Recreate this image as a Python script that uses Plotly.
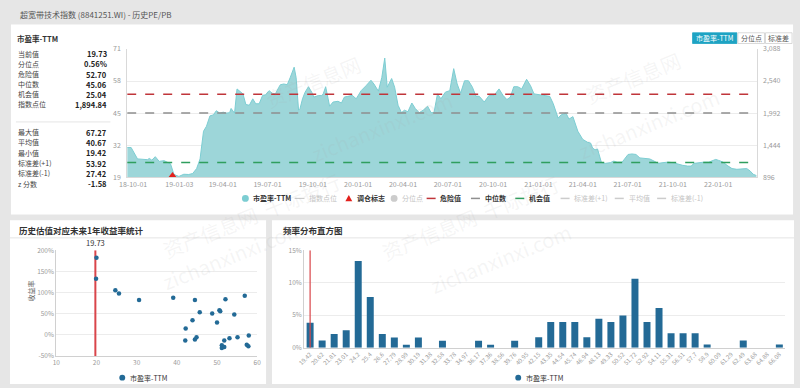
import plotly.graph_objects as go

W, H = 800, 388
FONT = "Noto Sans CJK SC, Noto Sans, sans-serif"

# ---------------- data ----------------
pe_dates = [
    "2018-09-19", "2018-09-27", "2018-10-10", "2018-10-20", "2018-10-30", "2018-11-03", "2018-11-08",
    "2018-11-15", "2018-11-23", "2018-12-03", "2018-12-09", "2018-12-16", "2018-12-23", "2019-01-02",
    "2019-01-12", "2019-01-22", "2019-01-30", "2019-02-07", "2019-02-14", "2019-02-21", "2019-02-27",
    "2019-03-06", "2019-03-13", "2019-03-19", "2019-03-26", "2019-04-02", "2019-04-08", "2019-04-15",
    "2019-04-18", "2019-04-25", "2019-04-30", "2019-05-05", "2019-05-12", "2019-05-18", "2019-05-25",
    "2019-06-01", "2019-06-07", "2019-06-14", "2019-06-21", "2019-06-27", "2019-07-04", "2019-07-11",
    "2019-07-17", "2019-07-24", "2019-07-27", "2019-08-03", "2019-08-10", "2019-08-16", "2019-08-24",
    "2019-08-28", "2019-08-31", "2019-09-02", "2019-09-05", "2019-09-10", "2019-09-15", "2019-09-22",
    "2019-09-29", "2019-10-03", "2019-10-12", "2019-10-19", "2019-10-22", "2019-10-27", "2019-11-01",
    "2019-11-04", "2019-11-11", "2019-11-21", "2019-11-28", "2019-12-04", "2019-12-11", "2019-12-20",
    "2019-12-28", "2020-01-07", "2020-01-17", "2020-01-27", "2020-02-02", "2020-02-11", "2020-02-18",
    "2020-02-24", "2020-02-29", "2020-03-09", "2020-03-15", "2020-03-22", "2020-03-29", "2020-04-04",
    "2020-04-11", "2020-04-19", "2020-04-26", "2020-05-04", "2020-05-12", "2020-05-21", "2020-05-28",
    "2020-06-03", "2020-06-10", "2020-06-17", "2020-06-26", "2020-07-05", "2020-07-13", "2020-07-20",
    "2020-07-27", "2020-08-04", "2020-08-12", "2020-08-20", "2020-08-27", "2020-09-03", "2020-09-13",
    "2020-09-23", "2020-10-03", "2020-10-13", "2020-10-21", "2020-10-29", "2020-11-05", "2020-11-12",
    "2020-11-20", "2020-11-28", "2020-12-08", "2020-12-16", "2020-12-23", "2021-01-04", "2021-01-17",
    "2021-01-24", "2021-01-31", "2021-02-10", "2021-02-16", "2021-02-26", "2021-03-04", "2021-03-12",
    "2021-03-22", "2021-04-01", "2021-04-11", "2021-04-17", "2021-04-21", "2021-04-26", "2021-05-01",
    "2021-05-05", "2021-05-09", "2021-05-17", "2021-05-27", "2021-06-03", "2021-06-10", "2021-06-20",
    "2021-06-26", "2021-07-02", "2021-07-10", "2021-07-18", "2021-07-26", "2021-08-05", "2021-08-15",
    "2021-08-24", "2021-09-01", "2021-09-11", "2021-09-21", "2021-10-01", "2021-10-11", "2021-10-21",
    "2021-10-31", "2021-11-07", "2021-11-13", "2021-11-23", "2021-12-03", "2021-12-13", "2021-12-20",
    "2021-12-27", "2022-01-02", "2022-01-11", "2022-01-19", "2022-01-29", "2022-02-08", "2022-02-18",
    "2022-02-28", "2022-03-07", "2022-03-13", "2022-03-20",
]
pe_values = [
    31.1, 31.1, 26.5, 26.5, 26.2, 26.7, 26.0,
    27.4, 25.5, 25.8, 25.1, 24.5, 20.2, 19.42,
    20.3, 20.2, 20.6, 22.6, 26.5, 37.7, 39.7,
    43.9, 44.3, 46.0, 45.0, 45.4, 45.0, 45.2,
    46.9, 45.0, 54.8, 54.1, 52.8, 48.5, 48.2,
    50.8, 48.8, 48.8, 52.2, 52.4, 54.1, 53.0,
    52.8, 55.5, 56.5, 56.8, 56.5, 59.4, 63.6,
    59.4, 52.8, 46.2, 46.9, 50.8, 53.4, 55.7,
    53.4, 51.5, 52.1, 52.1, 52.8, 55.7, 50.8,
    47.8, 49.5, 49.8, 49.1, 51.5, 51.8, 52.2,
    50.8, 54.1, 56.1, 58.3, 56.8, 53.9, 59.4,
    67.27, 55.5, 59.0, 55.5, 48.2, 45.2, 46.2,
    45.6, 49.1, 46.9, 45.2, 46.2, 47.8, 45.2,
    45.2, 52.8, 50.8, 53.5, 54.1, 63.0, 56.8,
    53.1, 58.1, 58.1, 55.5, 51.9, 51.8, 49.5,
    52.2, 52.2, 54.8, 52.2, 50.5, 51.5, 55.7,
    55.7, 54.8, 58.7, 56.1, 52.8, 52.4, 52.2,
    51.8, 48.9, 43.0, 44.3, 45.0, 42.6, 43.6,
    37.7, 34.4, 33.2, 32.9, 30.9, 30.2, 30.5,
    27.6, 25.0, 24.7, 25.0, 25.6, 25.2, 25.2,
    26.9, 28.3, 28.5, 28.3, 26.9, 26.7, 26.5,
    25.6, 24.7, 25.0, 25.2, 25.0, 24.3, 23.9,
    23.6, 23.6, 24.7, 25.0, 25.2, 25.2, 25.6,
    26.3, 25.9, 25.2, 23.9, 22.6, 22.3, 22.3,
    22.6, 21.6, 20.3, 19.73,
]
danger_value = 52.70
median_value = 45.06
opportunity_value = 25.04
current_pe = 19.73
percentile = 0.56
index_level = 1894.84
max_pe = 67.27
mean_pe = 40.67
min_pe = 19.42
std_plus = 53.92
std_minus = 27.42
z_score = -1.58
signal_date = "2018-12-20"
signal_value = 19.8

x_tick_dates = ["2018-10-01", "2019-01-03", "2019-04-01", "2019-07-01", "2019-10-01", "2020-01-01",
                "2020-04-01", "2020-07-01", "2020-10-01", "2021-01-01", "2021-04-01", "2021-07-01",
                "2021-10-01", "2022-01-01"]
left_ticks = [19, 32, 45, 58, 71]
right_ticks = [896, 1444, 1992, 2540, 3088]

scatter_pe = [20.0, 19.9, 24.7, 25.6, 30.6, 39.1, 44.5, 52.1, 56.9, 45.7, 48.8, 50.6, 50.8, 54.3,
              43.9, 50.0, 42.2, 42.1, 44.5, 44.9, 51.8, 53.1, 55.1, 57.9, 51.2, 51.2, 51.8, 57.4, 57.8]
scatter_ret = [182.4, 132.5, 105.7, 98.0, 82.7, 88.0, 82.7, 84.2, 92.6, 53.5, 50.5, 58.1, 55.8, 48.2,
               34.3, 29.0, 15.2, -13.2, -10.9, -5.5, -13.2, -7.8, -5.5, -1.7, -24.7, -30.8, -28.5, -23.2, -27.0]
ret_ticks = [-50, 0, 50, 100, 150, 200]
pe_ticks = [10, 20, 30, 40, 50, 60]

hist_bins = ["19.42", "20.62", "21.81", "23.01", "24.2", "25.4", "26.6", "27.79", "28.99", "30.19",
             "31.38", "32.58", "33.78", "34.97", "36.17", "37.36", "38.56", "39.76", "40.95", "42.15",
             "43.35", "44.54", "45.74", "46.94", "48.13", "49.33", "50.52", "51.72", "52.92", "54.11",
             "55.31", "56.51", "57.7", "58.9", "60.09", "61.29", "62.49", "63.68", "64.88", "66.08"]
hist_pct = [3.85, 1.1, 2.1, 2.7, 13.35, 7.8, 2.1, 1.55, 0.45, 1.55,
            0, 1.05, 0, 0, 1.05, 0.45, 0, 1.05, 0, 1.6,
            3.95, 3.95, 3.95, 1.6, 4.45, 3.95, 4.95, 10.6, 3.95, 6.1,
            2.2, 2.2, 2.2, 0.5, 0, 0, 1.1, 0, 0, 0.5]
hist_ticks = [0, 5, 10, 15]

stat_labels_1 = ["当前值", "分位点", "危险值", "中位数", "机会值", "指数点位"]
stat_labels_2 = ["最大值", "平均值", "最小值", "标准差(+1)", "标准差(-1)", "z 分数"]

# ---------------- helpers ----------------
def X(p):
    return p / W


def Y(p):
    return 1 - p / H


TEAL_FILL = "#9dd6d9"
TEAL_LINE = "#7ccdd2"
RED = "#c0353a"
GREY = "#8f8f8f"
GREEN = "#2f9e5e"
BLUE = "#236a96"
TICK = dict(family=FONT, size=7, color="#9a9a9a")
TICK_S = dict(family=FONT, size=6.5, color="#9a9a9a")

fig = go.Figure()

# top area chart
fig.add_trace(go.Scatter(x=pe_dates, y=pe_values, mode="lines", fill="tozeroy",
                         line=dict(color=TEAL_LINE, width=1), fillcolor=TEAL_FILL,
                         xaxis="x", yaxis="y", showlegend=False, hoverinfo="skip"))
for val, col in [(danger_value, RED), (median_value, GREY), (opportunity_value, GREEN)]:
    fig.add_trace(go.Scatter(x=[pe_dates[0], pe_dates[-1]], y=[val, val], mode="lines",
                             line=dict(color=col, width=1.5, dash="dash"),
                             xaxis="x", yaxis="y", showlegend=False, hoverinfo="skip"))
fig.add_trace(go.Scatter(x=[signal_date], y=[signal_value], mode="markers",
                         marker=dict(symbol="triangle-up", size=7, color="#e3201c"),
                         xaxis="x", yaxis="y", showlegend=False, hoverinfo="skip"))
fig.add_trace(go.Scatter(x=[pe_dates[-1]], y=[index_level], mode="markers",
                         marker=dict(size=1, opacity=0), xaxis="x", yaxis="y2",
                         showlegend=False, hoverinfo="skip"))

# scatter
fig.add_trace(go.Scatter(x=[current_pe, current_pe], y=[ret_ticks[0], ret_ticks[-1]], mode="lines",
                         line=dict(color="#d9454a", width=2), xaxis="x3", yaxis="y3",
                         showlegend=False, hoverinfo="skip"))
fig.add_trace(go.Scatter(x=scatter_pe, y=scatter_ret, mode="markers",
                         marker=dict(size=4.5, color=BLUE), xaxis="x3", yaxis="y3",
                         showlegend=False, hoverinfo="skip"))

# histogram
fig.add_trace(go.Bar(x=hist_bins, y=hist_pct, marker=dict(color=BLUE, line=dict(width=0)),
                     xaxis="x4", yaxis="y4", showlegend=False, hoverinfo="skip"))
fig.add_trace(go.Scatter(x=[hist_bins[0], hist_bins[0]], y=[hist_ticks[0], hist_ticks[-1]], mode="lines",
                         line=dict(color="#d9454a", width=1.2), xaxis="x4", yaxis="y4",
                         showlegend=False, hoverinfo="skip"))

shapes = []
annotations = []

# panels
shapes.append(dict(type="rect", xref="paper", yref="paper", x0=X(3), x1=X(797), y0=Y(214), y1=Y(19),
                   fillcolor="white", line=dict(width=0), layer="below"))
shapes.append(dict(type="rect", xref="paper", yref="paper", x0=X(2), x1=X(262), y0=Y(388), y1=Y(220),
                   fillcolor="white", line=dict(width=0), layer="below"))
shapes.append(dict(type="rect", xref="paper", yref="paper", x0=X(268), x1=X(798), y0=Y(388), y1=Y(220),
                   fillcolor="white", line=dict(width=0), layer="below"))
for a, b in [(2, 262), (268, 798)]:
    shapes.append(dict(type="line", xref="paper", yref="paper", x0=X(a), x1=X(b), y0=Y(238), y1=Y(238),
                       line=dict(color="#e4e4e4", width=1), layer="below"))
shapes.append(dict(type="line", xref="paper", yref="paper", x0=X(8), x1=X(104), y0=Y(119), y1=Y(119),
                   line=dict(color="#e6e6e6", width=1), layer="below"))

# watermarks
for txt, xx, yy in [("资产信息网", 310, 42), ("zichanxinxi.com", 380, 78), ("资产信息网", 690, 38),
                    ("zichanxinxi.com", 730, 75), ("资产信息网  千际投行", 150, 268),
                    ("zichanxinxi.com", 150, 300), ("资产信息网  千际投行", 470, 270),
                    ("zichanxinxi.com", 500, 305)]:
    annotations.append(dict(text=txt, x=X(xx), y=Y(yy), xref="paper", yref="paper", showarrow=False,
                            textangle=-22, font=dict(family=FONT, size=20, color="rgba(170,170,170,0.12)")))

# title texts
annotations.append(dict(text="超宽带技术指数 (8841251.WI) - 历史PE/PB", x=X(10), y=Y(8.5), xref="paper",
                        yref="paper", xanchor="left", yanchor="middle", showarrow=False,
                        font=dict(family=FONT, size=8, color="#555")))
annotations.append(dict(text="<b>市盈率-TTM</b>", x=X(7), y=Y(33), xref="paper", yref="paper",
                        xanchor="left", yanchor="middle", showarrow=False,
                        font=dict(family=FONT, size=7.5, color="#333")))
annotations.append(dict(text="<b>历史估值对应未来1年收益率统计</b>", x=X(9), y=Y(230), xref="paper",
                        yref="paper", xanchor="left", yanchor="middle", showarrow=False,
                        font=dict(family=FONT, size=8.5, color="#333")))
annotations.append(dict(text="<b>频率分布直方图</b>", x=X(277), y=Y(230), xref="paper",
                        yref="paper", xanchor="left", yanchor="middle", showarrow=False,
                        font=dict(family=FONT, size=8.5, color="#333")))

# stats
vals1 = [f"{current_pe:.2f}", f"{percentile:.2f}%", f"{danger_value:.2f}", f"{median_value:.2f}",
         f"{opportunity_value:.2f}", f"{index_level:,.2f}"]
vals2 = [f"{max_pe:.2f}", f"{mean_pe:.2f}", f"{min_pe:.2f}", f"{std_plus:.2f}", f"{std_minus:.2f}",
         f"{z_score:.2f}"]
for i, (lab, v) in enumerate(zip(stat_labels_1, vals1)):
    yy = 49 + i * 10.4
    annotations.append(dict(text=lab, x=X(8), y=Y(yy), xref="paper", yref="paper", xanchor="left",
                            yanchor="middle", showarrow=False, font=dict(family=FONT, size=7, color="#444")))
    annotations.append(dict(text=f"<b>{v}</b>", x=X(103), y=Y(yy), xref="paper", yref="paper",
                            xanchor="right", yanchor="middle", showarrow=False,
                            font=dict(family=FONT, size=7.5, color="#222")))
for i, (lab, v) in enumerate(zip(stat_labels_2, vals2)):
    yy = 129.5 + i * 10.6
    annotations.append(dict(text=lab, x=X(8), y=Y(yy), xref="paper", yref="paper", xanchor="left",
                            yanchor="middle", showarrow=False, font=dict(family=FONT, size=7, color="#444")))
    annotations.append(dict(text=f"<b>{v}</b>", x=X(103), y=Y(yy), xref="paper", yref="paper",
                            xanchor="right", yanchor="middle", showarrow=False,
                            font=dict(family=FONT, size=7.5, color="#222")))

# buttons
for lab, x0, x1, active in [("市盈率-TTM", 695, 740, True), ("分位点", 741, 768, False),
                            ("标准差", 769, 796, False)]:
    shapes.append(dict(type="rect", xref="paper", yref="paper", x0=X(x0), x1=X(x1), y0=Y(38.5), y1=Y(27.5),
                       fillcolor="#1ea3c3" if active else "white",
                       line=dict(color="#1ea3c3" if active else "#cfcfcf", width=0.8)))
    annotations.append(dict(text=lab, x=X((x0 + x1) / 2), y=Y(33), xref="paper", yref="paper",
                            showarrow=False, xanchor="center", yanchor="middle",
                            font=dict(family=FONT, size=7, color="white" if active else "#555")))

# top legend (drawn)
LY = 197.5
legend_items = [
    ("circle", TEAL_LINE, "市盈率-TTM", 241, True),
    ("line", "#cccccc", "指数点位", 296, False),
    ("tri", "#e3201c", "调仓标志", 346, True),
    ("circle", "#cccccc", "分位点", 392, False),
    ("dash", RED, "危险值", 430, True),
    ("dash", GREY, "中位数", 475, True),
    ("dash", GREEN, "机会值", 520, True),
    ("dash", "#cccccc", "标准差(+1)", 566, False),
    ("dash", "#cccccc", "平均值", 621, False),
    ("dash", "#cccccc", "标准差(-1)", 664, False),
]
for kind, col, lab, cx, active in legend_items:
    if kind == "circle":
        shapes.append(dict(type="circle", xref="paper", yref="paper", x0=X(cx - 3.5), x1=X(cx + 3.5),
                           y0=Y(LY + 3.5), y1=Y(LY - 3.5), fillcolor=col, line=dict(width=0)))
        tx = cx + 6
    elif kind == "tri":
        shapes.append(dict(type="path", xref="paper", yref="paper",
                           path=f"M {X(cx-3.5)},{Y(LY+3)} L {X(cx+3.5)},{Y(LY+3)} L {X(cx)},{Y(LY-3.5)} Z",
                           fillcolor=col, line=dict(width=0)))
        tx = cx + 6
    elif kind == "line":
        shapes.append(dict(type="line", xref="paper", yref="paper", x0=X(cx - 5), x1=X(cx + 5),
                           y0=Y(LY), y1=Y(LY), line=dict(color=col, width=1.2)))
        tx = cx + 8
    else:
        shapes.append(dict(type="line", xref="paper", yref="paper", x0=X(cx - 5), x1=X(cx + 5),
                           y0=Y(LY), y1=Y(LY), line=dict(color=col, width=1.5, dash="dashdot")))
        tx = cx + 7
    annotations.append(dict(text=(f"<b>{lab}</b>" if active else lab), x=X(tx), y=Y(LY), xref="paper",
                            yref="paper", xanchor="left", yanchor="middle", showarrow=False,
                            font=dict(family=FONT, size=7, color="#333" if active else "#c4c4c4")))

# bottom legends
for cx in [116, 518]:
    shapes.append(dict(type="circle", xref="paper", yref="paper", x0=X(cx - 3), x1=X(cx + 3),
                       y0=Y(381.5 + 3), y1=Y(381.5 - 3), fillcolor=BLUE, line=dict(width=0)))
    annotations.append(dict(text="市盈率-TTM", x=X(cx + 6), y=Y(381.5), xref="paper", yref="paper",
                            xanchor="left", yanchor="middle", showarrow=False,
                            font=dict(family=FONT, size=7, color="#333")))

# scatter extras
annotations.append(dict(text=f"{current_pe:.2f}", x=current_pe, y=ret_ticks[-1], xref="x3", yref="y3",
                        yanchor="bottom", xanchor="center", showarrow=False, yshift=0,
                        font=dict(family=FONT, size=7.5, color="#333")))
annotations.append(dict(text="收益率", x=X(16), y=Y(305), xref="paper", yref="paper", textangle=-90,
                        showarrow=False, font=dict(family=FONT, size=7, color="#666")))

fig.update_layout(
    width=W, height=H, margin=dict(l=0, r=0, t=0, b=0),
    paper_bgcolor="#e6e6e6", plot_bgcolor="rgba(0,0,0,0)",
    font=dict(family=FONT), showlegend=False,
    shapes=shapes, annotations=annotations, bargap=0.42,
    xaxis=dict(domain=[X(121), X(760)], anchor="y", type="date",
               range=[pe_dates[0], pe_dates[-1]], tickmode="array", tickvals=x_tick_dates,
               tickformat="%y-%m-%d", tickfont=TICK, showgrid=False, showline=True,
               linecolor="#d9d9d9", ticks="", zeroline=False),
    yaxis=dict(domain=[Y(176), Y(44)], anchor="x", range=[left_ticks[0], left_ticks[-1]],
               tickmode="array", tickvals=left_ticks, tickfont=TICK, gridcolor="#ececec",
               showline=True, linecolor="#d9d9d9", zeroline=False, ticks="", ticklabelstandoff=4),
    yaxis2=dict(overlaying="y", side="right", anchor="x", range=[right_ticks[0], right_ticks[-1]],
                tickmode="array", tickvals=right_ticks, ticktext=[f"{v:,}" for v in right_ticks],
                tickfont=TICK, showgrid=False,
                showline=True, linecolor="#d9d9d9", zeroline=False, ticks="", ticklabelstandoff=4),
    xaxis3=dict(domain=[X(49), X(253)], anchor="y3", range=[pe_ticks[0], pe_ticks[-1]], tickmode="array",
                tickvals=pe_ticks, tickfont=TICK_S, showgrid=False, showline=True, linecolor="#d0d0d0",
                zeroline=False, ticks=""),
    yaxis3=dict(domain=[Y(359.3), Y(250.7)], anchor="x3", range=[ret_ticks[0], ret_ticks[-1]],
                tickmode="array", tickvals=ret_ticks, ticktext=[f"{v}%" for v in ret_ticks],
                tickfont=TICK_S, gridcolor="#ececec",
                showline=True, linecolor="#d0d0d0", zeroline=False, ticks=""),
    xaxis4=dict(domain=[X(300.6), X(789.2)], anchor="y4", type="category", tickmode="array",
                tickvals=hist_bins, ticktext=hist_bins, tickangle=-45,
                tickfont=dict(family=FONT, size=6, color="#9a9a9a"), showgrid=False, showline=True,
                linecolor="#d0d0d0", ticks=""),
    yaxis4=dict(domain=[Y(350.7), Y(250.7)], anchor="x4", range=[hist_ticks[0], hist_ticks[-1]],
                tickmode="array", tickvals=hist_ticks, ticktext=[f"{v}%" for v in hist_ticks],
                tickfont=TICK_S, gridcolor="#ececec",
                showline=True, linecolor="#d0d0d0", zeroline=False, ticks=""),
)

fig.write_html("out.html", config={"displayModeBar": False},
               post_script="document.body.style.margin='0';document.body.style.overflow='hidden';")
